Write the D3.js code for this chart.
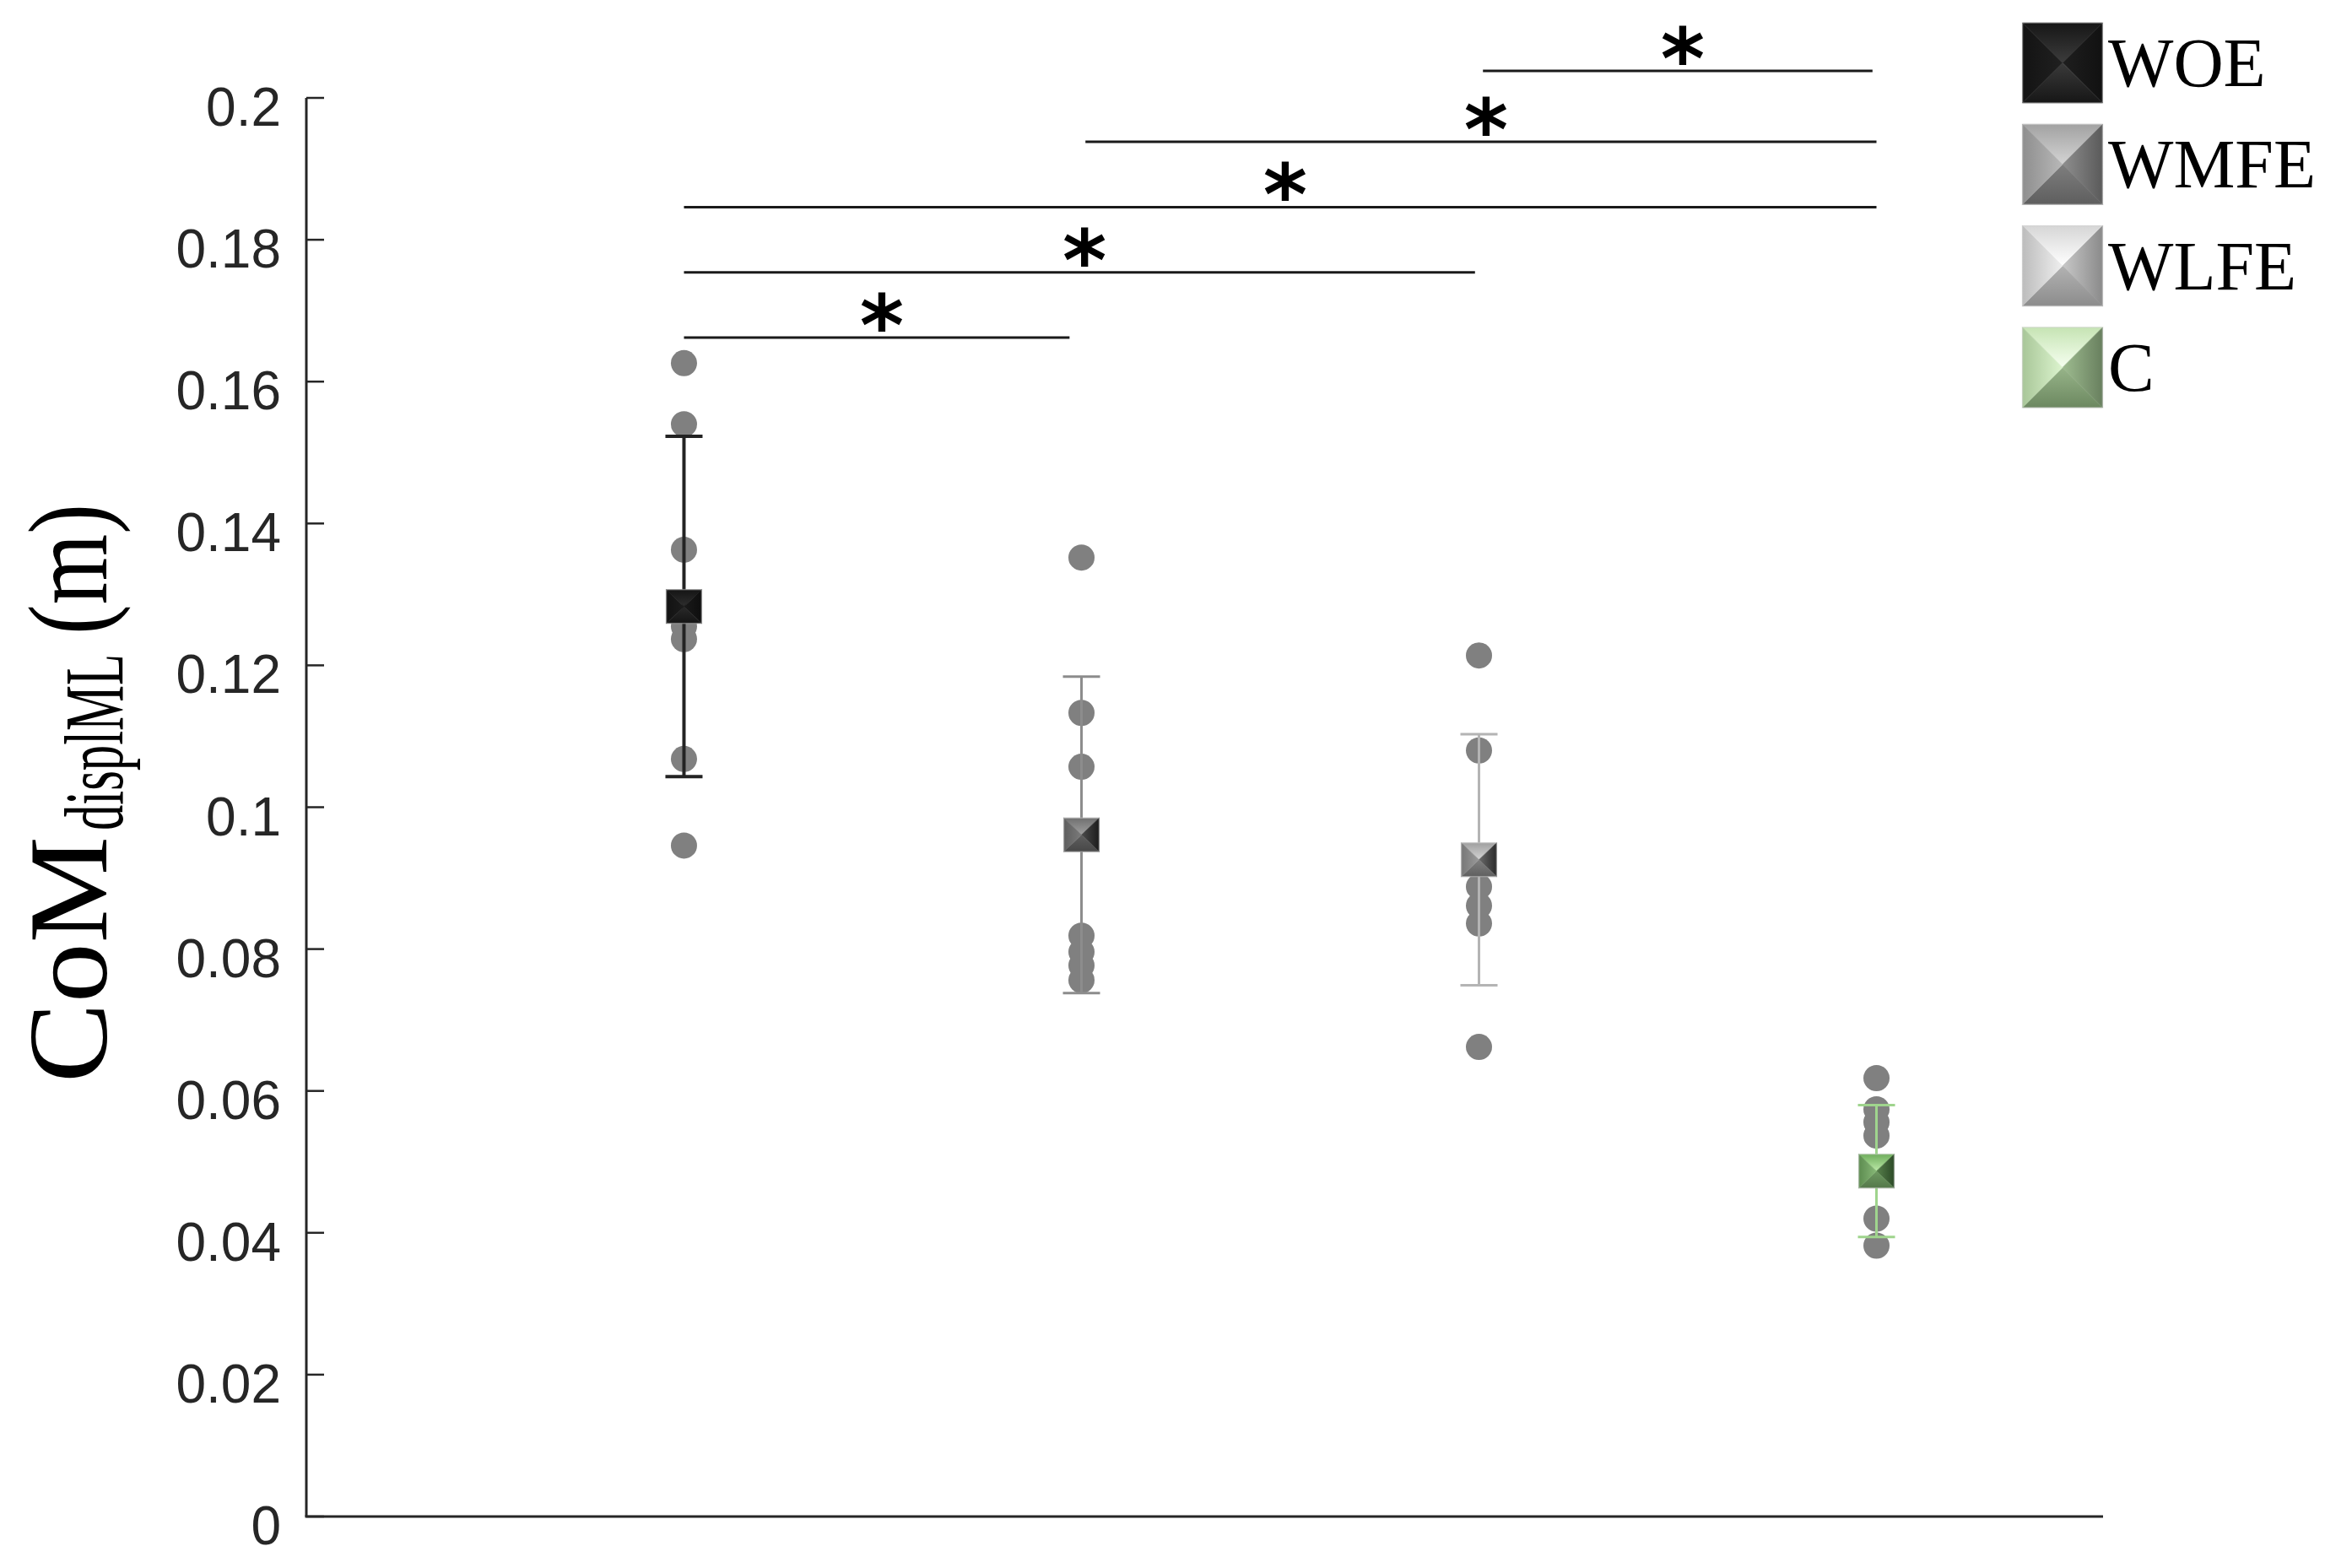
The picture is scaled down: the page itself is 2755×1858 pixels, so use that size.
<!DOCTYPE html>
<html>
<head>
<meta charset="utf-8">
<script src="https://cdn.jsdelivr.net/npm/d3@7/dist/d3.min.js"></script>
<style>
  body { margin: 0; background: #fff; }
  svg { display: block; }
</style>
</head>
<body>
<svg id="graph" width="2755" height="1858"></svg>
<script>
/*globals d3*/
// values
var groups = ["WOE", "WMFE", "WLFE", "C"];
var groupX = [1, 2, 3, 4];
var means = [0.1283, 0.0961, 0.0926, 0.0487];
var sds = [0.0240, 0.0223, 0.0177, 0.0093];

var ptsWOE = [0.1626, 0.1540, 0.1363, 0.1255, 0.1237, 0.1068, 0.0946];
var ptsWMFE = [0.1352, 0.1133, 0.1057, 0.0819, 0.0796, 0.0777, 0.0756];
var ptsWLFE = [0.1214, 0.1080, 0.0888, 0.0861, 0.0836, 0.0662];
var ptsC = [0.0618, 0.0574, 0.0556, 0.0537, 0.0420, 0.0382];
var points = [ptsWOE, ptsWMFE, ptsWLFE, ptsC];

var yTicks = [0, 0.02, 0.04, 0.06, 0.08, 0.1, 0.12, 0.14, 0.16, 0.18, 0.2];
var yTickLabels = ["0", "0.02", "0.04", "0.06", "0.08", "0.1", "0.12", "0.14", "0.16", "0.18", "0.2"];

// significance brackets (group positions) and their heights
var sigFrom = [1, 1, 1, 2.01, 3.01];
var sigTo = [1.97, 2.99, 4, 4, 3.99];
var sigLevel = [0.1662, 0.1754, 0.1846, 0.1938, 0.2038];

var svg = d3.select("svg"),
    width = 2755,
    height = 1858;

var x = d3.scaleLinear().domain([0.05, 4.57]).range([363, 2492]);
var y = d3.scaleLinear().domain([0, 0.2]).range([1797, 116]);

var barColor = ["#232323", "#8c8c8c", "#b4b4b4", "#9fd48d"];
var barWidth = [4, 3, 3, 3];

// face shades: [outer, inner] for top, right, bottom, left
var plotShade = {
  WOE:  {top: ["#141414", "#2e2e2e"], right: ["#0e0e0e", "#1a1a1a"], bottom: ["#141414", "#2a2a2a"], left: ["#121212", "#1c1c1c"]},
  WMFE: {top: ["#707070", "#a0a0a0"], right: ["#1c1c1c", "#4a4a4a"], bottom: ["#474747", "#5e5e5e"], left: ["#5e5e5e", "#7a7a7a"]},
  WLFE: {top: ["#a0a0a0", "#d4d4d4"], right: ["#2a2a2a", "#6a6a6a"], bottom: ["#606060", "#808080"], left: ["#777777", "#9a9a9a"]},
  C:    {top: ["#6fae5c", "#bce9a8"], right: ["#2c4a27", "#58804c"], bottom: ["#54784a", "#6f9a62"], left: ["#5d8c50", "#87b877"]}
};
var legendShade = {
  WOE:  {top: ["#161616", "#3c3c3c"], right: ["#111111", "#1e1e1e"], bottom: ["#161616", "#3a3a3a"], left: ["#131313", "#202020"]},
  WMFE: {top: ["#a2a2a2", "#d4d4d4"], right: ["#5a5a5a", "#8e8e8e"], bottom: ["#5e5e5e", "#7e7e7e"], left: ["#8e8e8e", "#b8b8b8"]},
  WLFE: {top: ["#d6d6d6", "#ffffff"], right: ["#8a8a8a", "#c8c8c8"], bottom: ["#8c8c8c", "#b2b2b2"], left: ["#bcbcbc", "#efefef"]},
  C:    {top: ["#c6e4b4", "#f6fff0"], right: ["#687f5e", "#9ebc90"], bottom: ["#6c8860", "#97b489"], left: ["#a8c698", "#dcf4ce"]}
};

var defs = svg.append("defs");
var faceDir = {top: [0, 0, 0, 1], right: [1, 0, 0, 0], bottom: [0, 1, 0, 0], left: [0, 0, 1, 0]};

function makeGradients(shades, prefix) {
  groups.forEach(function(gname) {
    Object.keys(faceDir).forEach(function(face) {
      var d = faceDir[face];
      var lg = defs.append("linearGradient")
        .attr("id", prefix + gname + face)
        .attr("x1", d[0]).attr("y1", d[1]).attr("x2", d[2]).attr("y2", d[3]);
      lg.append("stop").attr("offset", "0%").attr("stop-color", shades[gname][face][0]);
      lg.append("stop").attr("offset", "100%").attr("stop-color", shades[gname][face][1]);
    });
  });
}
makeGradients(plotShade, "p");
makeGradients(legendShade, "l");

function bevel(g, cx, cy, w, h, gname, prefix) {
  var x0 = cx - w / 2, x1 = cx + w / 2, y0 = cy - h / 2, y1 = cy + h / 2;
  var faces = {
    top: [[x0, y0], [x1, y0], [cx, cy]],
    right: [[x1, y0], [x1, y1], [cx, cy]],
    bottom: [[x1, y1], [x0, y1], [cx, cy]],
    left: [[x0, y1], [x0, y0], [cx, cy]]
  };
  Object.keys(faces).forEach(function(face) {
    g.append("polygon")
      .attr("points", faces[face].map(function(p) { return p.join(","); }).join(" "))
      .attr("fill", "url(#" + prefix + gname + face + ")")
      .attr("stroke", "url(#" + prefix + gname + face + ")")
      .attr("stroke-width", 0.6);
  });
  g.append("rect")
    .attr("x", x0).attr("y", y0).attr("width", w).attr("height", h)
    .attr("fill", "none").attr("stroke", "#d0d0d0").attr("stroke-opacity", 0.5).attr("stroke-width", 1.5);
}

// axes
var axisG = svg.append("g").attr("class", "axis");
axisG.append("line")
  .attr("x1", x.range()[0]).attr("x2", x.range()[0])
  .attr("y1", y(0)).attr("y2", y(0.2))
  .attr("stroke", "#262626").attr("stroke-width", 3);
axisG.append("line")
  .attr("x1", x.range()[0] - 1.5).attr("x2", x.range()[1])
  .attr("y1", y(0)).attr("y2", y(0))
  .attr("stroke", "#262626").attr("stroke-width", 3);

axisG.selectAll("line.tick")
  .data(yTicks)
  .enter().append("line")
  .attr("class", "tick")
  .attr("x1", x.range()[0]).attr("x2", x.range()[0] + 21)
  .attr("y1", function(d) { return y(d); })
  .attr("y2", function(d) { return y(d); })
  .attr("stroke", "#262626").attr("stroke-width", 2.5);

axisG.selectAll("text.ticklabel")
  .data(yTicks)
  .enter().append("text")
  .attr("class", "ticklabel")
  .attr("x", x.range()[0] - 30)
  .attr("y", function(d) { return y(d) + 33; })
  .attr("text-anchor", "end")
  .attr("font-family", "Liberation Sans, Arial, sans-serif")
  .attr("font-size", 64)
  .attr("fill", "#262626")
  .text(function(d, i) { return yTickLabels[i]; });

// y label
var lab = svg.append("g")
  .attr("transform", "translate(126,1283) rotate(-90)")
  .attr("font-family", "Liberation Serif, Times New Roman, serif")
  .attr("fill", "#000");
lab.append("text").attr("x", 0).attr("y", 0)
  .attr("font-size", 134)
  .attr("textLength", 292).attr("lengthAdjust", "spacingAndGlyphs")
  .text("CoM");
lab.append("text").attr("x", 299).attr("y", 19)
  .attr("font-size", 100)
  .attr("textLength", 209).attr("lengthAdjust", "spacingAndGlyphs")
  .text("displML");
lab.append("text").attr("x", 531).attr("y", 0)
  .attr("font-size", 134)
  .attr("textLength", 155).attr("lengthAdjust", "spacingAndGlyphs")
  .text("(m)");

// individual points
var ptsG = svg.append("g").attr("class", "points");
points.forEach(function(arr, i) {
  ptsG.selectAll("circle.g" + i)
    .data(arr)
    .enter().append("circle")
    .attr("class", "g" + i)
    .attr("cx", x(groupX[i]))
    .attr("cy", function(d) { return y(d); })
    .attr("r", 15.5)
    .attr("fill", "#808080");
});

// error bars
var ebG = svg.append("g").attr("class", "errorbars");
groups.forEach(function(gname, i) {
  var cx = x(groupX[i]), top = y(means[i] + sds[i]), bot = y(means[i] - sds[i]);
  ebG.append("line").attr("x1", cx).attr("x2", cx).attr("y1", top).attr("y2", bot)
    .attr("stroke", barColor[i]).attr("stroke-width", barWidth[i]);
  [top, bot].forEach(function(yy) {
    ebG.append("line").attr("x1", cx - 22).attr("x2", cx + 22).attr("y1", yy).attr("y2", yy)
      .attr("stroke", barColor[i]).attr("stroke-width", barWidth[i]);
  });
});

// mean markers
var mkG = svg.append("g").attr("class", "markers");
groups.forEach(function(gname, i) {
  bevel(mkG, x(groupX[i]), y(means[i]), 42, 40, gname, "p");
});

// significance brackets
var sigG = svg.append("g").attr("class", "sig");
sigLevel.forEach(function(lv, i) {
  sigG.append("line")
    .attr("x1", x(sigFrom[i])).attr("x2", x(sigTo[i]))
    .attr("y1", y(lv)).attr("y2", y(lv))
    .attr("stroke", "#1a1a1a").attr("stroke-width", 3);
  sigG.append("text")
    .attr("x", (x(sigFrom[i]) + x(sigTo[i])) / 2 + 6)
    .attr("y", y(lv) + 21)
    .attr("text-anchor", "middle")
    .attr("font-family", "DejaVu Sans, sans-serif")
    .attr("font-weight", "bold")
    .attr("font-size", 100)
    .attr("fill", "#000")
    .text("*");
});

// legend
var leg = svg.append("g").attr("class", "legend");
groups.forEach(function(gname, i) {
  var top = 27 + i * 120.3;
  bevel(leg, 2444, top + 47.5, 95, 95, gname, "l");
  leg.append("text")
    .attr("x", 2498).attr("y", top + 75)
    .attr("font-family", "Liberation Serif, Times New Roman, serif")
    .attr("font-size", 82)
    .attr("fill", "#000")
    .text(gname);
});
</script>
</body>
</html>
